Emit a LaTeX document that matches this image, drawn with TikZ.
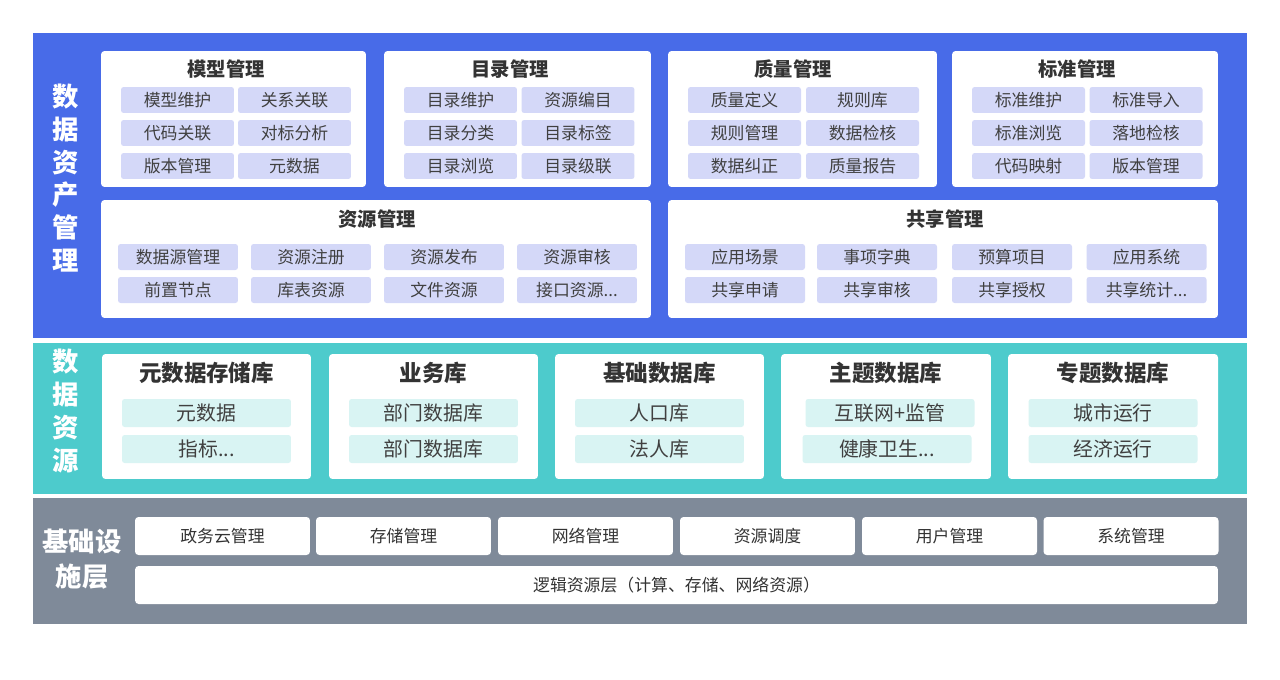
\documentclass[tikz,border=0pt]{standalone}
\usepackage{fontspec}
\setmainfont{Noto Sans CJK SC}

\definecolor{bandblue}{HTML}{486BE8}
\definecolor{bandteal}{HTML}{4DCBCC}
\definecolor{bandgray}{HTML}{7F8A99}
\definecolor{itemblue}{HTML}{D4D8F8}
\definecolor{itemteal}{HTML}{D9F4F3}
\definecolor{txtdark}{HTML}{333333}
\definecolor{txtitem}{HTML}{404040}

\tikzset{
  panel/.style={fill=white, rounded corners=2pt, inner sep=0pt},
  vtitle/.style={text=white, font=\fontsize{15}{18.7}\selectfont\bfseries, align=center},
  ptitle/.style={text=txtdark, font=\fontsize{11}{13}\selectfont\bfseries},
  qtitle/.style={text=txtdark, font=\fontsize{12.8}{15}\selectfont\bfseries},
  bbox/.style={fill=itemblue, rounded corners=1.5pt, inner sep=0pt,
    minimum width=2.26cm, minimum height=0.52cm,
    text=txtitem, font=\fontsize{9.6}{11}\selectfont},
  wbox/.style={bbox, minimum width=2.4cm},
  tbox/.style={fill=itemteal, rounded corners=1.5pt, inner sep=0pt,
    minimum width=3.38cm, minimum height=0.56cm,
    text=txtitem, font=\fontsize{11.3}{13}\selectfont},
  gbox/.style={panel, minimum width=3.5cm, minimum height=0.76cm,
    text=txtdark, font=\fontsize{9.6}{11}\selectfont}
}

\begin{document}
\begin{tikzpicture}[x=0.02cm, y=-0.02cm]

\useasboundingbox (0,0) rectangle (1280,679);

% Bandes
\fill[bandblue] (33,33) rectangle (1247,338);
\fill[bandteal] (33,343) rectangle (1247,494);
\fill[bandgray] (33,498) rectangle (1247,624);

% Titres verticaux
\node[vtitle] (zcgl) at (66,178) {数\\据\\资\\产\\管\\理};
\node[vtitle] (sjzy) at (66,411) {数\\据\\资\\源};
\node[vtitle, font=\fontsize{15}{19.8}\selectfont\bfseries] (jcss) at (82,559) {基础设\\施层};

% Modele
\node[panel, minimum width=5.3cm, minimum height=2.72cm] (mxgl) at (233.5,119) {};
\node[ptitle] (mxgl-t) at (226,69) {模型管理};
\node[bbox] (mx1) at (177.5,100) {模型维护};
\node[bbox] (mx2) at (294.5,100) {关系关联};
\node[bbox] (mx3) at (177.5,133) {代码关联};
\node[bbox] (mx4) at (294.5,133) {对标分析};
\node[bbox] (mx5) at (177.5,166) {版本管理};
\node[bbox] (mx6) at (294.5,166) {元数据};

% Catalogue
\node[panel, minimum width=5.34cm, minimum height=2.72cm] (mlgl) at (517.5,119) {};
\node[ptitle] (mlgl-t) at (510,69) {目录管理};
\node[bbox] (ml1) at (460.5,100) {目录维护};
\node[bbox] (ml2) at (578,100) {资源编目};
\node[bbox] (ml3) at (460.5,133) {目录分类};
\node[bbox] (ml4) at (578,133) {目录标签};
\node[bbox] (ml5) at (460.5,166) {目录浏览};
\node[bbox] (ml6) at (578,166) {目录级联};

% Qualite
\node[panel, minimum width=5.38cm, minimum height=2.72cm] (zlgl) at (802.5,119) {};
\node[ptitle] (zlgl-t) at (793,69) {质量管理};
\node[bbox] (zl1) at (744.5,100) {质量定义};
\node[bbox] (zl2) at (862.5,100) {规则库};
\node[bbox] (zl3) at (744.5,133) {规则管理};
\node[bbox] (zl4) at (862.5,133) {数据检核};
\node[bbox] (zl5) at (744.5,166) {数据纠正};
\node[bbox] (zl6) at (862.5,166) {质量报告};

% Norme
\node[panel, minimum width=5.32cm, minimum height=2.72cm] (bzgl) at (1085,119) {};
\node[ptitle] (bzgl-t) at (1077,69) {标准管理};
\node[bbox] (bz1) at (1028.5,100) {标准维护};
\node[bbox] (bz2) at (1146,100) {标准导入};
\node[bbox] (bz3) at (1028.5,133) {标准浏览};
\node[bbox] (bz4) at (1146,133) {落地检核};
\node[bbox] (bz5) at (1028.5,166) {代码映射};
\node[bbox] (bz6) at (1146,166) {版本管理};

% Ressources
\node[panel, minimum width=11cm, minimum height=2.36cm] (zygl) at (376,259) {};
\node[ptitle] (zygl-t) at (377,219) {资源管理};
\node[wbox] (zy1) at (178,257) {数据源管理};
\node[wbox] (zy2) at (311,257) {资源注册};
\node[wbox] (zy3) at (444,257) {资源发布};
\node[wbox] (zy4) at (577,257) {资源审核};
\node[wbox] (zy5) at (178,290) {前置节点};
\node[wbox] (zy6) at (311,290) {库表资源};
\node[wbox] (zy7) at (444,290) {文件资源};
\node[wbox] (zy8) at (577,290) {接口资源...};

% Partage
\node[panel, minimum width=11cm, minimum height=2.36cm] (gxgl) at (943,259) {};
\node[ptitle] (gxgl-t) at (945,219) {共享管理};
\node[wbox] (gx1) at (745,257) {应用场景};
\node[wbox] (gx2) at (877,257) {事项字典};
\node[wbox] (gx3) at (1012,257) {预算项目};
\node[wbox] (gx4) at (1146.5,257) {应用系统};
\node[wbox] (gx5) at (745,290) {共享申请};
\node[wbox] (gx6) at (877,290) {共享审核};
\node[wbox] (gx7) at (1012,290) {共享授权};
\node[wbox] (gx8) at (1146.5,290) {共享统计...};

% Bases de donnees
\node[panel, minimum width=4.18cm, minimum height=2.5cm] (yck) at (206.5,416.5) {};
\node[qtitle] (yck-t) at (206.5,373) {元数据存储库};
\node[tbox] (yc1) at (206.5,413) {元数据};
\node[tbox] (yc2) at (206.5,449) {指标...};

\node[panel, minimum width=4.18cm, minimum height=2.5cm] (ywk) at (433.5,416.5) {};
\node[qtitle] (ywk-t) at (433.5,373) {业务库};
\node[tbox] (yw1) at (433.5,413) {部门数据库};
\node[tbox] (yw2) at (433.5,449) {部门数据库};

\node[panel, minimum width=4.18cm, minimum height=2.5cm] (jck) at (659.5,416.5) {};
\node[qtitle] (jck-t) at (659.5,373) {基础数据库};
\node[tbox] (jc1) at (659.5,413) {人口库};
\node[tbox] (jc2) at (659.5,449) {法人库};

\node[panel, minimum width=4.2cm, minimum height=2.5cm] (ztk) at (886,416.5) {};
\node[qtitle] (ztk-t) at (886,373) {主题数据库};
\node[tbox] (zt1) at (890,413) {互联网+监管};
\node[tbox] (zt2) at (887,449) {健康卫生...};

\node[panel, minimum width=4.2cm, minimum height=2.5cm] (zzk) at (1113,416.5) {};
\node[qtitle] (zzk-t) at (1113,373) {专题数据库};
\node[tbox] (zz1) at (1113,413) {城市运行};
\node[tbox] (zz2) at (1113,449) {经济运行};

% Infrastructure
\node[gbox] (ss1) at (222.5,536) {政务云管理};
\node[gbox] (ss2) at (403.5,536) {存储管理};
\node[gbox] (ss3) at (585.5,536) {网络管理};
\node[gbox] (ss4) at (767.5,536) {资源调度};
\node[gbox] (ss5) at (949.5,536) {用户管理};
\node[gbox] (ss6) at (1131,536) {系统管理};
\node[gbox, minimum width=21.66cm] (ljzy) at (676.5,585) {逻辑资源层（计算、存储、网络资源）};

\end{tikzpicture}
\end{document}
